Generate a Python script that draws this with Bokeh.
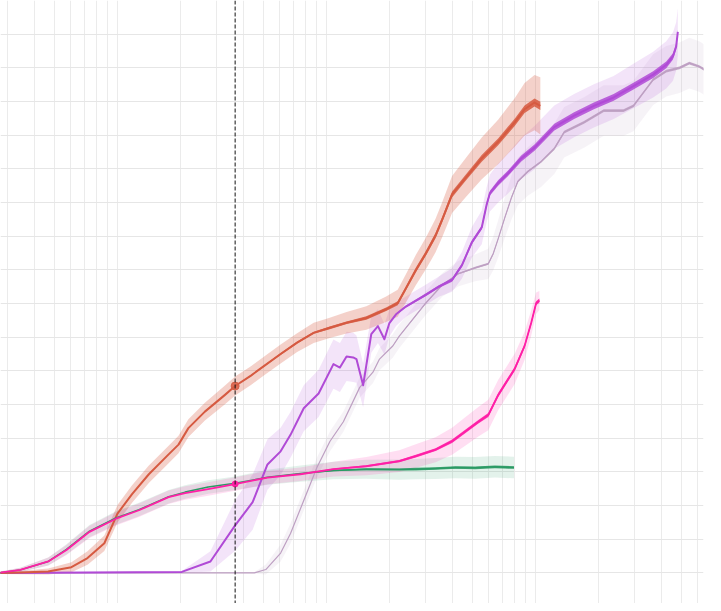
import numpy as np
from bokeh.plotting import figure
from bokeh.models import FixedTicker, SingleIntervalTicker, Span, Range1d
from bokeh.embed import file_html
from bokeh.resources import INLINE

# ---------------- data ----------------
hover_x = 3667

orange_x = [270, 344, 467, 604, 721, 868, 1003, 1178, 1417, 1762, 1965, 2191, 2628, 3268, 3667,
            4365, 5051, 6053, 7260, 8709, 10400, 12513, 15560, 19350, 21980, 24060, 26830, 29920,
            33360, 35880, 40010, 46260, 55480, 66460, 79770, 88950, 99240, 105800]
orange_y = [0.00, 0.01, 0.04, 0.17, 0.44, 0.88, 1.76, 2.34, 2.93, 3.52, 3.81, 4.30, 4.79, 5.28, 5.55,
            5.86, 6.15, 6.50, 6.84, 7.13, 7.28, 7.43, 7.57, 7.83, 8.01, 8.45, 8.99, 9.48,
            10.02, 10.49, 11.24, 11.72, 12.31, 12.80, 13.38, 13.77, 13.97, 13.87]
orange_sd = [0.03, 0.05, 0.09, 0.15, 0.20, 0.23, 0.26, 0.26, 0.26, 0.26, 0.26, 0.26, 0.26, 0.28, 0.28,
             0.28, 0.28, 0.28, 0.28, 0.30, 0.30, 0.32, 0.35, 0.38, 0.40, 0.42, 0.45, 0.47,
             0.50, 0.52, 0.55, 0.58, 0.62, 0.66, 0.72, 0.78, 0.82, 0.85]
orange_jit = [0, 0, 0, 0, 0, 0, 0, 0, 0, 0, 0, 0, 0, 0, 0.01,
              0.02, 0.02, 0.03, 0.03, 0.03, 0.04, 0.04, 0.05, 0.05, 0.06, 0.06, 0.07, 0.07,
              0.08, 0.08, 0.09, 0.09, 0.10, 0.10, 0.11, 0.11, 0.12, 0.12]

pink_x = [270, 344, 468, 572, 737, 986, 1271, 1762, 2113, 2724, 3667, 5236, 7526, 10830, 15560,
          22370, 26830, 33360, 40010, 46260, 53460, 59640, 66460, 79770, 88950, 95640, 101000, 104700]
pink_y = [0.00, 0.09, 0.34, 0.68, 1.22, 1.61, 1.86, 2.25, 2.37, 2.49, 2.64, 2.83, 2.93, 3.08, 3.17,
          3.32, 3.47, 3.66, 3.91, 4.20, 4.49, 4.69, 5.28, 6.06, 6.74, 7.42, 8.01, 8.09]
pink_sd = [0.03, 0.06, 0.12, 0.15, 0.18, 0.20, 0.20, 0.20, 0.20, 0.20, 0.20, 0.20, 0.20, 0.22, 0.27,
           0.32, 0.35, 0.37, 0.40, 0.42, 0.44, 0.45, 0.45, 0.45, 0.42, 0.38, 0.32, 0.28]
pink_jit = [0, 0, 0, 0, 0, 0, 0, 0, 0, 0, 0, 0, 0.01, 0.02, 0.03,
            0.03, 0.04, 0.04, 0.05, 0.05, 0.05, 0.06, 0.06, 0.06, 0.06, 0.06, 0.06, 0.06]

green_x = [270, 344, 468, 572, 737, 986, 1271, 1762, 2113, 2724, 3667, 5236, 7526, 10830, 15560,
           22370, 26830, 33360, 41490, 51590, 64150, 79160]
green_y = [0.00, 0.09, 0.34, 0.70, 1.24, 1.63, 1.88, 2.26, 2.40, 2.55, 2.66, 2.84, 2.95, 3.04, 3.08,
           3.07, 3.08, 3.10, 3.13, 3.12, 3.15, 3.13]
green_sd = [0.03, 0.06, 0.12, 0.15, 0.18, 0.20, 0.20, 0.20, 0.20, 0.20, 0.20, 0.22, 0.24, 0.26, 0.28,
            0.30, 0.30, 0.31, 0.32, 0.32, 0.32, 0.32]
green_jit = [0, 0, 0, 0, 0, 0, 0, 0, 0, 0, 0, 0, 0.01, 0.02, 0.03,
             0.03, 0.04, 0.04, 0.04, 0.04, 0.04, 0.04]

purple_x = [270, 2037, 2793, 3667, 4447, 5236, 6053, 6749, 7808, 9196, 10830, 11630, 12513, 13460,
            13953, 15020, 16430, 17680, 18990, 20060, 21580, 24060, 29920, 34580, 40010, 44630,
            49770, 55480, 58580, 60720, 66460, 74140, 85770, 99240, 123400, 153500, 190800,
            237300, 295000, 366800, 423600, 456100, 472300, 481200]
purple_y = [0.00, 0.03, 0.34, 1.41, 2.10, 3.22, 3.61, 4.10, 4.89, 5.33, 6.20, 6.10, 6.43, 6.40,
            6.35, 5.57, 7.09, 7.33, 6.94, 7.42, 7.68, 7.91, 8.26, 8.50, 8.70, 9.14,
            9.82, 10.26, 10.94, 11.28, 11.58, 11.87, 12.31, 12.63, 13.24, 13.58, 13.87,
            14.12, 14.46, 14.80, 15.09, 15.34, 15.63, 16.07]
purple_sd = [0.02, 0.03, 0.30, 0.75, 0.82, 0.75, 0.70, 0.68, 0.68, 0.70, 0.73, 0.73, 0.73, 0.73,
             0.70, 0.65, 0.55, 0.50, 0.45, 0.40, 0.35, 0.30, 0.30, 0.30, 0.35, 0.40,
             0.45, 0.50, 0.52, 0.55, 0.58, 0.60, 0.62, 0.64, 0.64, 0.64, 0.64,
             0.64, 0.66, 0.68, 0.70, 0.72, 0.72, 0.70]
purple_jit = [0, 0, 0, 0, 0, 0, 0, 0, 0, 0, 0, 0, 0, 0,
              0, 0, 0, 0, 0, 0, 0.02, 0.03, 0.04, 0.04, 0.05, 0.05,
              0.06, 0.06, 0.07, 0.07, 0.08, 0.08, 0.09, 0.09, 0.10, 0.10, 0.10,
              0.10, 0.10, 0.10, 0.10, 0.09, 0.08, 0.06]

gray_x = [270, 4530, 5141, 6053, 6749, 7808, 9026, 10430, 12080, 14470, 16740, 17990, 20820,
          22370, 25880, 29920, 35880, 43000, 51590, 59640, 62950, 66460, 71530, 76920, 82640,
          92180, 106600, 123400, 137600, 171100, 212800, 264600, 295000, 328900, 366800,
          423600, 489800, 546400, 609000, 667000]
gray_y = [0.00, 0.00, 0.10, 0.59, 1.17, 2.15, 3.13, 3.91, 4.49, 5.51, 5.96, 6.35, 6.74,
          7.03, 7.52, 8.01, 8.55, 8.89, 9.06, 9.18, 9.48, 9.92, 10.55, 11.14, 11.63,
          11.92, 12.21, 12.60, 13.09, 13.38, 13.73, 13.73, 13.87, 14.26, 14.65,
          14.90, 15.00, 15.14, 15.04, 14.89]
gray_sd = [0.02, 0.02, 0.15, 0.25, 0.30, 0.30, 0.30, 0.30, 0.30, 0.30, 0.32, 0.33, 0.35,
           0.35, 0.35, 0.35, 0.35, 0.38, 0.40, 0.45, 0.50, 0.55, 0.60, 0.65, 0.70,
           0.72, 0.75, 0.75, 0.75, 0.75, 0.75, 0.75, 0.75, 0.75, 0.75,
           0.75, 0.75, 0.75, 0.75, 0.75]
gray_jit = [0, 0, 0, 0, 0, 0, 0, 0, 0, 0, 0, 0, 0.01,
            0.01, 0.02, 0.02, 0.02, 0.02, 0.03, 0.03, 0.03, 0.03, 0.03, 0.03, 0.03,
            0.03, 0.03, 0.04, 0.04, 0.04, 0.04, 0.04, 0.04, 0.04, 0.04,
            0.04, 0.04, 0.04, 0.04, 0.04]

hover_orange_y = 5.55
hover_pink_y = 2.64

# ---------------- figure ----------------
p = figure(frame_width=703, frame_height=603, x_axis_type="log",
           x_range=Range1d(276.5, 638460), y_range=Range1d(-0.9086, 17.0),
           output_backend="svg", toolbar_location=None,
           x_axis_location=None, y_axis_location=None,
           min_border=0, min_border_right=10, outline_line_color=None,
           background_fill_color="white", border_fill_color="white")

p.xgrid.ticker = FixedTicker(ticks=[m * 10 ** e for e in range(2, 6) for m in range(1, 10)])
p.xgrid.grid_line_color = "#ebebeb"
p.ygrid.ticker = SingleIntervalTicker(interval=1)
p.ygrid.grid_line_color = "#e6e6e6"

series = [
    (gray_x, gray_y, gray_sd, gray_jit, "#bd9fc2", 0.13, 1.2),
    (purple_x, purple_y, purple_sd, purple_jit, "#b04ad6", 0.15, 2.0),
    (orange_x, orange_y, orange_sd, orange_jit, "#d65a41", 0.28, 2.0),
    (green_x, green_y, green_sd, green_jit, "#2a9a64", 0.13, 1.5),
    (pink_x, pink_y, pink_sd, pink_jit, "#ff1fa6", 0.15, 1.8),
]

for xs, ys, sd, jit, col, alpha, lw in series:
    xa, ya, sa = np.array(xs, float), np.array(ys, float), np.array(sd, float)
    p.varea(x=xa, y1=ya - sa, y2=ya + sa, fill_color=col, fill_alpha=alpha)

for xs, ys, sd, jit, col, alpha, lw in series:
    xa, ya, ja = np.array(xs, float), np.array(ys, float), np.array(jit, float)
    p.varea(x=xa, y1=ya - ja, y2=ya + ja, fill_color=col, fill_alpha=0.85)
    p.line(xa, ya, line_color=col, line_width=lw, line_join="round")

p.add_layout(Span(location=hover_x, dimension="height", line_color="#111111",
                  line_width=1, line_dash="4 2"))

p.scatter([hover_x], [hover_orange_y], size=8, color="#d65a41", alpha=0.85)
p.scatter([hover_x], [hover_pink_y], size=6, color="#ff1fa6")

open("out.html", "w").write(file_html(p, INLINE))
